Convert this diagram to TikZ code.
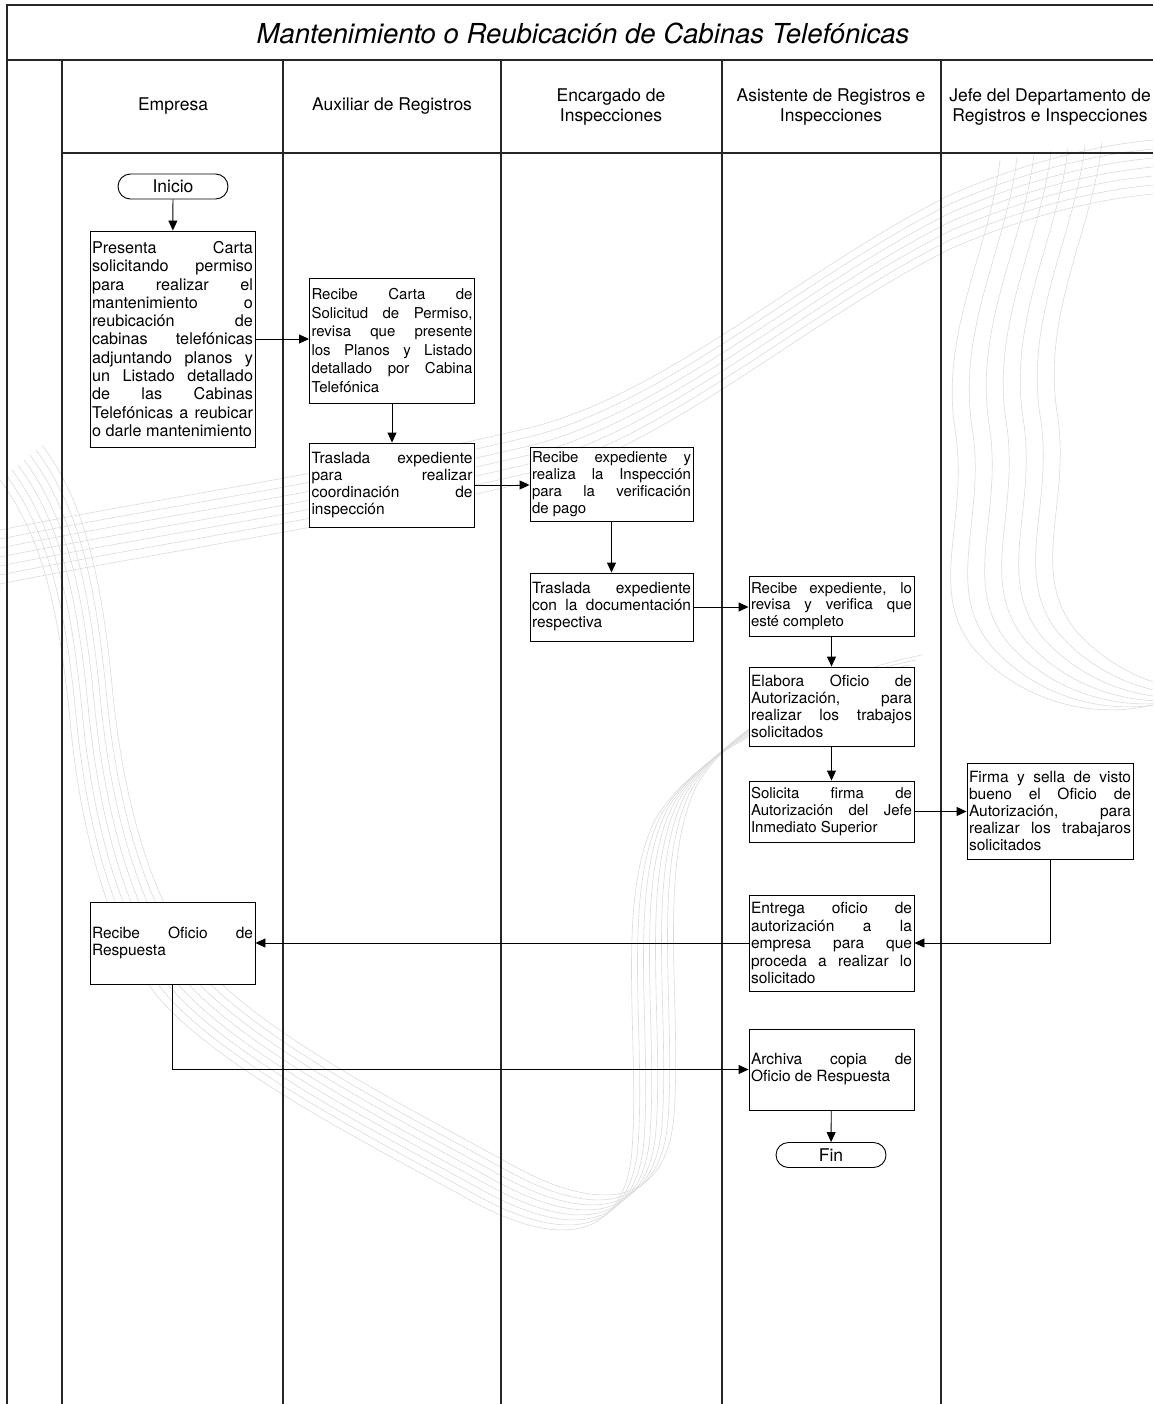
\documentclass[tikz,border=0pt]{standalone}
\usepackage{fontspec}
\setmainfont{TeX Gyre Heros}
\usetikzlibrary{arrows.meta,shapes.misc}
\tolerance=10000 \hbadness=10000 \hyphenpenalty=10000 \pretolerance=-1
\begin{document}
\begin{tikzpicture}[x=1pt,y=-1pt,
  lane/.style={line width=1.3pt, draw=black!85},
  proc/.style={draw, line width=0.9pt, fill=white, text width=161pt, inner xsep=2pt, inner ysep=2pt, align=justify, font=\fontsize{15.5}{17}\selectfont, minimum height=#1},
  term/.style={draw, rounded rectangle, line width=0.9pt, fill=white, minimum width=110pt, minimum height=25pt, font=\fontsize{17.5}{20}\selectfont, inner sep=0pt},
  flow/.style={line width=0.9pt, -{Triangle[length=10pt,width=9pt]}},
  hdr/.style={align=center, font=\fontsize{17.5}{20.5}\selectfont},
  wm/.style={draw=black!14, line width=0.6pt}
]
\useasboundingbox (0,0) rectangle (1153,1404);
\begin{scope}
\clip (0,0) rectangle (1153,1404);
% watermark contour bands
\foreach \d in {0,...,7} {
  \draw[wm, shift={(\d*6,-\d*5)}] (0,480) .. controls (45,540) and (60,620) .. (70,720) .. controls (80,830) and (110,950) .. (170,1010) .. controls (240,1080) and (380,1150) .. (470,1200) .. controls (560,1250) and (625,1240) .. (632,1150) .. controls (640,1040) and (615,900) .. (655,820) .. controls (690,760) and (780,710) .. (880,690);
}
\foreach \d in {0,...,6} {
  \draw[wm, shift={(0,\d*9)}] (0,530) .. controls (150,500) and (350,470) .. (520,430) .. controls (660,400) and (800,270) .. (950,195) .. controls (1030,160) and (1100,145) .. (1153,140);
}
\foreach \d in {0,...,6} {
  \draw[wm, shift={(\d*17,-\d*3)}] (1000,160) .. controls (990,250) and (940,330) .. (955,430) .. controls (970,520) and (925,590) .. (975,650) .. controls (1020,700) and (1090,720) .. (1153,705);
}
\end{scope}
% frame and lanes
\draw[lane] (7,1404) -- (7,5) -- (1153,5);
\draw[lane] (7,60) -- (1153,60);
\draw[lane] (62,153) -- (1153,153);
\foreach \x in {62,283,501,722,941} {
  \draw[lane] (\x,60) -- (\x,1404);
}
% title and headers
\node[font=\fontsize{27.5}{30}\selectfont\itshape] (title) at (583,33) {Mantenimiento o Reubicación de Cabinas Telefónicas};
\node[hdr] (h1) at (173,106) {Empresa};
\node[hdr] (h2) at (392,106) {Auxiliar de Registros};
\node[hdr] (h3) at (611,107) {Encargado de\\Inspecciones};
\node[hdr] (h4) at (831,107) {Asistente de Registros e\\Inspecciones};
\node[hdr] (h5) at (1050,107) {Jefe del Departamento de\\Registros e Inspecciones};
% process nodes
\node[term] (ini) at (173,186.5) {Inicio};
\node[proc=216pt, font=\fontsize{16.2}{18.3}\selectfont] (b1) at (172.5,339) {Presenta Carta\linebreak solicitando permiso\linebreak para realizar el\linebreak mantenimiento o\linebreak reubicación de\linebreak cabinas telefónicas\linebreak adjuntando planos y\linebreak un Listado detallado\linebreak de las Cabinas\linebreak Telefónicas a reubicar\linebreak o darle mantenimiento};
\node[proc=125pt, font=\fontsize{15}{18.5}\selectfont] (b2) at (392,340.5) {Recibe Carta de\linebreak Solicitud de Permiso,\linebreak revisa que presente\linebreak los Planos y Listado\linebreak detallado por Cabina\linebreak Telefónica};
\node[proc=84pt] (b3) at (392,485) {Traslada expediente\linebreak para realizar\linebreak coordinación de\linebreak inspección};
\node[proc=74pt, text width=159pt, font=\fontsize{15}{17}\selectfont] (b4) at (611.5,484) {Recibe expediente y\linebreak realiza la Inspección\linebreak para la verificación\linebreak de pago};
\node[proc=68pt, text width=159pt] (b5) at (611.5,607) {Traslada expediente\linebreak con la documentación\linebreak respectiva};
\node[proc=60pt, font=\fontsize{15}{16.5}\selectfont] (b6) at (831.5,606) {Recibe expediente, lo\linebreak revisa y verifica que\linebreak esté completo};
\node[proc=79pt] (b7) at (831.5,706.5) {Elabora Oficio de\linebreak Autorización, para\linebreak realizar los trabajos\linebreak solicitados};
\node[proc=61pt, font=\fontsize{15}{17}\selectfont] (b8) at (831.5,811.5) {Solicita firma de\linebreak Autorización del Jefe\linebreak Inmediato Superior};
\node[proc=96pt, text width=162pt] (b9) at (1050,811) {Firma y sella de visto\linebreak bueno el Oficio de\linebreak Autorización, para\linebreak realizar los trabajaros\linebreak solicitados};
\node[proc=96pt, font=\fontsize{15.5}{17.5}\selectfont] (b10) at (831.5,943) {Entrega oficio de\linebreak autorización a la\linebreak empresa para que\linebreak proceda a realizar lo\linebreak solicitado};
\node[proc=82pt] (b11) at (172.5,943) {Recibe Oficio de\linebreak Respuesta};
\node[proc=81pt] (b12) at (831.5,1069.5) {Archiva copia de\linebreak Oficio de Respuesta};
\node[term] (fin) at (831,1155) {Fin};
% connectors
\draw[flow] (ini) -- (b1);
\draw[flow] (b1.east) -- (b1.east -| b2.west);
\draw[flow] (b2) -- (b3);
\draw[flow] (b3.east) -- (b3.east -| b4.west);
\draw[flow] (b4) -- (b5);
\draw[flow] (b5.east) -- (b5.east -| b6.west);
\draw[flow] (b6) -- (b7);
\draw[flow] (b7) -- (b8);
\draw[flow] (b8.east) -- (b8.east -| b9.west);
\draw[flow] (b9.south) |- (b10.east);
\draw[flow] (b10.west) -- (b11.east);
\draw[flow] (b11.south) |- (b12.west);
\draw[flow] (b12) -- (fin);
\end{tikzpicture}
\end{document}
